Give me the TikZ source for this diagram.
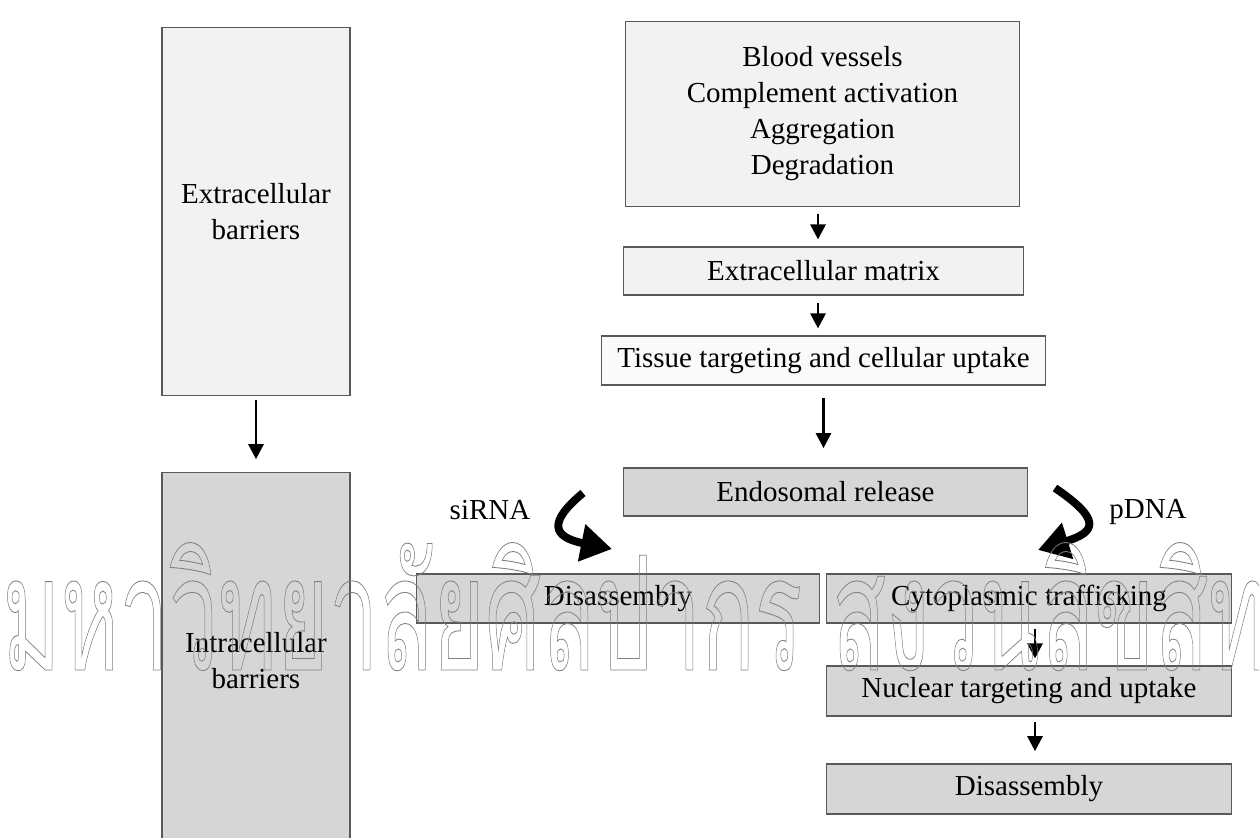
\documentclass[tikz,border=0pt]{standalone}
\usepackage{fontspec}
\setmainfont{Liberation Serif}
\newfontfamily\thaifont[Script=Thai]{Loma}
\usepackage{tikz}
\usetikzlibrary{arrows.meta,positioning}
\newcommand\outlinetext[1]{\special{pdf:literal direct 1 Tr 0.45 w}#1\special{pdf:literal direct 0 Tr}}

\begin{document}
\begin{tikzpicture}[x=0.02cm,y=-0.02cm]
\tikzstyle{box}=[draw=black!65,line width=0.6pt,inner sep=2pt,align=center,
  font=\fontsize{16.5}{20.5}\selectfont]
\tikzstyle{light}=[box,fill=black!5]
\tikzstyle{dark}=[box,fill=black!16]
\tikzstyle{lab}=[font=\fontsize{16.5}{20.5}\selectfont]
\tikzstyle{flow}=[line width=1.6pt,-{Triangle[length=0.3cm,width=0.3cm]}]
\tikzstyle{curvearrow}=[line width=4.5pt,-{Triangle[length=0.62cm,width=0.72cm]}]
\tikzstyle{wmark}=[anchor=base west,inner sep=0pt,text=black!50]
\useasboundingbox (0,0) rectangle (1259,838);
\clip (0,0) rectangle (1259,838);
% left column
\node[light,minimum width=3.76cm,minimum height=7.38cm] (extra) at (256,211.5) {Extracellular\\barriers};
\node[dark,minimum width=3.76cm,minimum height=7.56cm] (intra) at (256,661) {Intracellular\\barriers};
% right column
\node[light,minimum width=7.9cm,minimum height=3.7cm] (blood) at (822.5,114)
  {Blood vessels\\Complement activation\\Aggregation\\Degradation};
\node[light,minimum width=8.02cm,minimum height=0.96cm] (ecm) at (823.5,271) {Extracellular matrix};
\node[box,fill=black!2,minimum width=8.9cm,minimum height=0.98cm] (tissue) at (823.5,360.5) {Tissue targeting and cellular uptake};
\node[dark,minimum width=8.1cm,minimum height=0.96cm] (endo) at (825.5,492) {Endosomal release};
\node[dark,minimum width=8.08cm,minimum height=0.98cm] (disL) at (618,598.5) {Disassembly};
\node[dark,minimum width=8.12cm,minimum height=0.98cm] (cyto) at (1029,598.5) {Cytoplasmic trafficking};
\node[dark,minimum width=8.12cm,minimum height=1cm] (nuc) at (1029,691) {Nuclear targeting and uptake};
\node[dark,minimum width=8.12cm,minimum height=1cm] (disR) at (1029,789) {Disassembly};
\node[lab] (sirna) at (490,510) {siRNA};
\node[lab] (pdna) at (1148,512) {pDNA};
\coordinate (s1) at (583,493);
\coordinate (t1) at (612,549);
\coordinate (s2) at (1055,488);
\coordinate (t2) at (1038,550);
% arrows
\draw[flow,shorten <=2pt,shorten >=7pt] (extra) -- (intra);
\draw[flow,shorten <=4pt,shorten >=4pt] ([xshift=-0.09cm]blood.south) -- ([xshift=-0.09cm]blood.south |- ecm.north);
\draw[flow,shorten <=4pt,shorten >=4pt] ([xshift=-0.11cm]ecm.south) -- ([xshift=-0.11cm]ecm.south |- tissue.north);
\draw[flow,shorten <=7pt,shorten >=11pt] (tissue.south) -- (tissue.south |- endo.north);
\draw[flow,shorten <=3pt,shorten >=4pt] ([xshift=0.12cm]cyto.south) -- ([xshift=0.12cm]cyto.south |- nuc.north);
\draw[flow,shorten <=3pt,shorten >=7pt] ([xshift=0.12cm]nuc.south) -- ([xshift=0.12cm]nuc.south |- disR.north);
\draw[curvearrow] (s1) .. controls (548,522) and (552,537) .. (t1);
\draw[curvearrow] (s2) .. controls (1102,520) and (1096,532) .. (t2);
% watermark
\node[wmark] (wm) at (2,670) {\scalebox{0.63}[1.13]{\thaifont\fontsize{80}{90}\selectfont\outlinetext{มหาวิทยาลัยศิลปากร สงวนลิขสิทธิ์}}};
\end{tikzpicture}
\end{document}
